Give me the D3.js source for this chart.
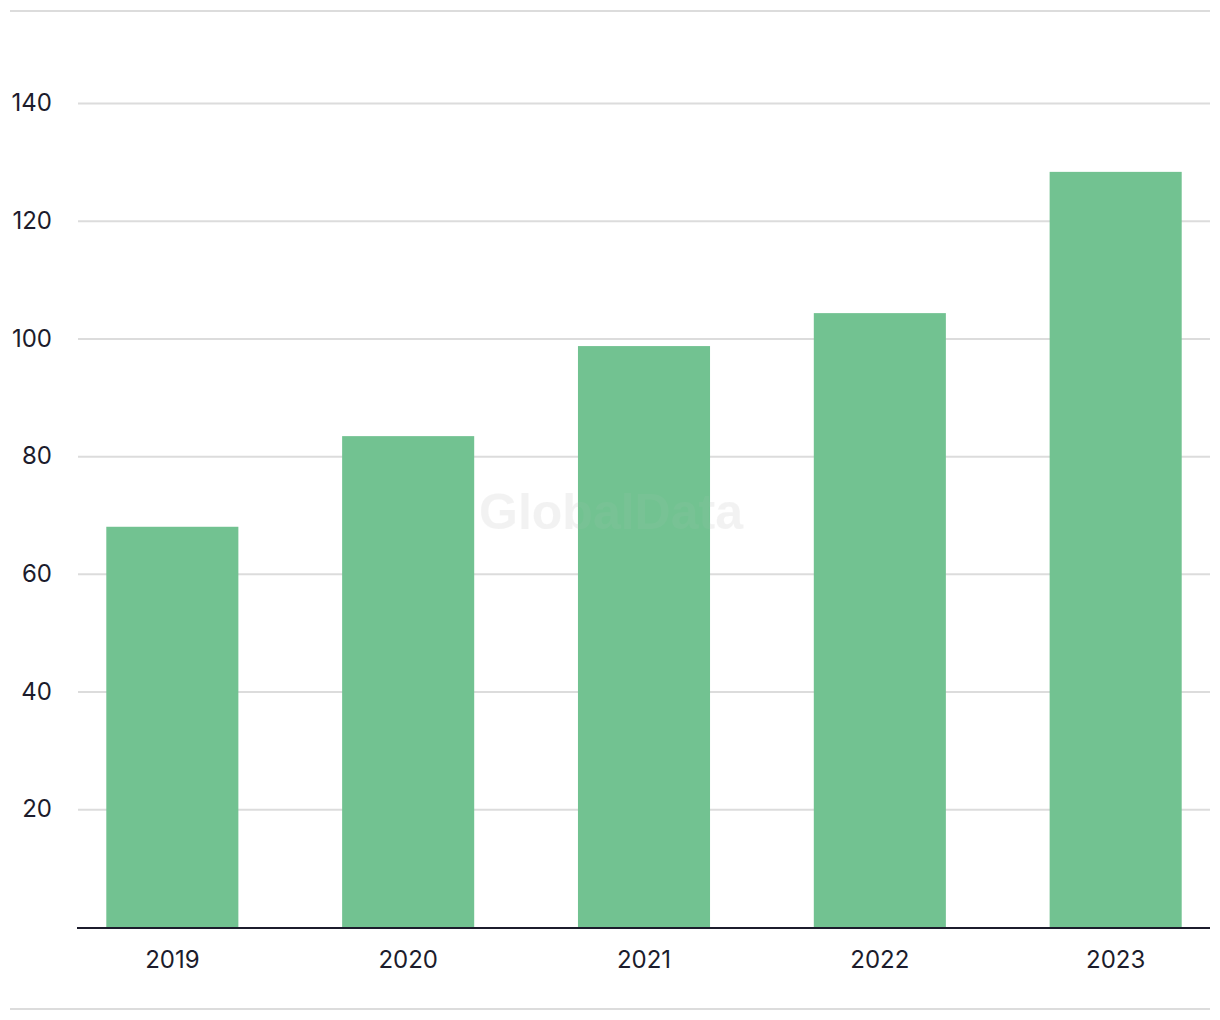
<!DOCTYPE html>
<html>
<head>
<meta charset="utf-8">
<script src="https://cdn.jsdelivr.net/npm/d3@7"></script>
<style>
  html, body { margin: 0; padding: 0; background: #fff; }
  svg { display: block; }
</style>
</head>
<body>
<svg id="chart" width="1220" height="1020"></svg>
<script>
const categories = ["2019", "2020", "2021", "2022", "2023"];
const values = [68.0, 83.4, 98.7, 104.3, 128.3];
const yTicks = [20, 40, 60, 80, 100, 120, 140];

(function () {
const svg = d3.select("#chart");
const mLeft = 78, mRight = 1210, mTop = 103, mBottom = 927;
const font = "Inter, 'Liberation Sans', Arial, sans-serif";
const textColor = "#1c1c2c";

const x = d3.scaleBand().domain(categories).range([mLeft, mRight]).paddingInner(0.44).paddingOuter(0.12);
const y = d3.scaleLinear().domain([0, 140]).range([mBottom, mTop]);

// frame lines
svg.append("line").attr("x1", 10).attr("x2", mRight).attr("y1", 11).attr("y2", 11)
  .attr("stroke", "#dcdcdc").attr("stroke-width", 2);
svg.append("line").attr("x1", 10).attr("x2", mRight).attr("y1", 1009).attr("y2", 1009)
  .attr("stroke", "#dcdcdc").attr("stroke-width", 2);

// gridlines via axis
const yAxis = d3.axisLeft(y).tickValues(yTicks).tickSize(-(mRight - mLeft)).tickPadding(26);
const gy = svg.append("g").attr("transform", `translate(${mLeft},0)`).call(yAxis);
gy.select(".domain").remove();
gy.selectAll(".tick line").attr("stroke", "#dcdcdc").attr("stroke-width", 2);
gy.selectAll(".tick text").attr("fill", textColor).attr("font-family", font)
  .attr("font-size", 24).attr("text-anchor", "end");

// watermark (behind bars)
svg.append("text").attr("x", 611).attr("y", 512).attr("text-anchor", "middle")
  .attr("dominant-baseline", "central").attr("font-family", "'Liberation Sans', Arial, sans-serif")
  .attr("font-weight", "bold").attr("font-size", 50).attr("fill", "#999").attr("opacity", 0.08)
  .text("GlobalData");

// bars
svg.append("g").selectAll("rect").data(categories).join("rect")
  .attr("x", d => x(d)).attr("width", x.bandwidth())
  .attr("y", (d, i) => y(values[i])).attr("height", (d, i) => y(0) - y(values[i]))
  .attr("fill", "#72c291");

// faint watermark over bars
svg.append("text").attr("x", 611).attr("y", 512).attr("text-anchor", "middle")
  .attr("dominant-baseline", "central").attr("font-family", "'Liberation Sans', Arial, sans-serif")
  .attr("font-weight", "bold").attr("font-size", 50).attr("fill", "#cccccc").attr("opacity", 0.07)
  .text("GlobalData");

// x axis
const xAxis = d3.axisBottom(x).tickSize(0).tickPadding(23);
const gx = svg.append("g").attr("transform", `translate(0,${mBottom + 1})`).call(xAxis);
gx.select(".domain").attr("stroke", textColor).attr("stroke-width", 2)
  .attr("d", `M${mLeft - 1},0H${mRight}`);
gx.selectAll(".tick text").attr("fill", textColor).attr("font-family", font).attr("font-size", 24);
})();
</script>
</body>
</html>
